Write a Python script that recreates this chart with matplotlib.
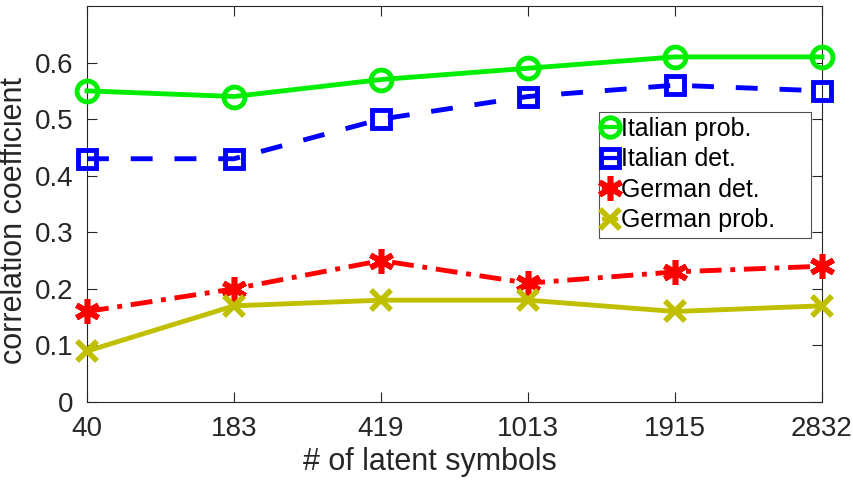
import matplotlib
matplotlib.use("Agg")
import matplotlib.pyplot as plt
from matplotlib.lines import Line2D

plt.rcParams['font.family'] = ['Liberation Sans', 'DejaVu Sans']

x_labels = ['40', '183', '419', '1013', '1915', '2832']
italian_prob = [0.55, 0.54, 0.57, 0.59, 0.61, 0.61]
italian_det = [0.43, 0.43, 0.50, 0.54, 0.56, 0.55]
german_det = [0.16, 0.20, 0.25, 0.21, 0.23, 0.24]
german_prob = [0.09, 0.17, 0.18, 0.18, 0.16, 0.17]

fig = plt.figure(figsize=(8.54, 4.83), dpi=100)
ax = fig.add_axes([87/854, 1-402/483, (822-87)/854, (402-6)/483])
xs = list(range(1, len(x_labels)+1))

green = '#00ee00'
blue = '#0000ff'
red = '#ff0000'
olive = '#c0c000'

ax.plot(xs, italian_prob, color=green, lw=3.5, ls='-', marker='o', ms=15,
        mfc='none', mew=3.5, clip_on=False, zorder=3)
ax.plot(xs, italian_det, color=blue, lw=3.5, ls=(0, (4.5, 4.5)), marker='s', ms=13,
        mfc='none', mew=3.5, clip_on=False, zorder=3)
ax.plot(xs, german_det, color=red, lw=3.5, ls=(0, (4.5, 1.8, 1, 1.8)), marker=(6, 2, 0), ms=18,
        mew=4, clip_on=False, zorder=3)
ax.plot(xs, german_prob, color=olive, lw=3.5, ls='-', marker='x', ms=14,
        mew=4, clip_on=False, zorder=3)

ax.set_xlim(1, 6)
ax.set_ylim(0, 0.7)
ax.set_xticks(xs)
ax.set_xticklabels(x_labels)
ax.set_yticks([0, 0.1, 0.2, 0.3, 0.4, 0.5, 0.6])
ax.set_yticklabels(['0', '0.1', '0.2', '0.3', '0.4', '0.5', '0.6'])
ax.tick_params(direction='in', top=True, right=True, labelsize=20, length=7,
               colors='#262626', width=0.8)
ax.tick_params(axis='y', pad=10)
ax.tick_params(axis='x', pad=10)
for s in ax.spines.values():
    s.set_color('#262626')
    s.set_linewidth(0.8)
ax.set_xlabel('# of latent symbols', fontsize=22, color='#262626')
ax.set_ylabel('correlation coefficient', fontsize=22, color='#262626')
ax.xaxis.set_label_coords((430-87)/735, -(462-402)/396)
ax.yaxis.set_label_coords(-(87-14)/735, (402-220)/396)
ax.xaxis.label.set_va('center')
ax.yaxis.label.set_va('center')

handles = [
    Line2D([], [], color=green, ls='-', lw=3, marker='o', ms=14, mfc='none', mew=3.5),
    Line2D([], [], color=blue, ls='-', lw=3, marker='s', ms=13, mfc='none', mew=3.5),
    Line2D([], [], color=red, ls='-', lw=3, marker=(6, 2, 0), ms=18, mew=4),
    Line2D([], [], color=olive, ls='-', lw=3, marker='x', ms=14, mew=4),
]
x0 = (599-87)/735
y1 = (402-112)/396
leg = ax.legend(handles, ['Italian prob.', 'Italian det.', 'German det.', 'German prob.'],
                loc='upper left', bbox_to_anchor=(x0, y1 - 126/396, (811-599)/735, 126/396),
                mode='expand',
                fontsize=18, frameon=True, fancybox=False, edgecolor='#262626',
                handlelength=0.5, handletextpad=0.2, borderpad=0.2, labelspacing=0.26,
                borderaxespad=0)
leg.get_frame().set_linewidth(0.8)

fig.savefig('out.png', dpi=100)
